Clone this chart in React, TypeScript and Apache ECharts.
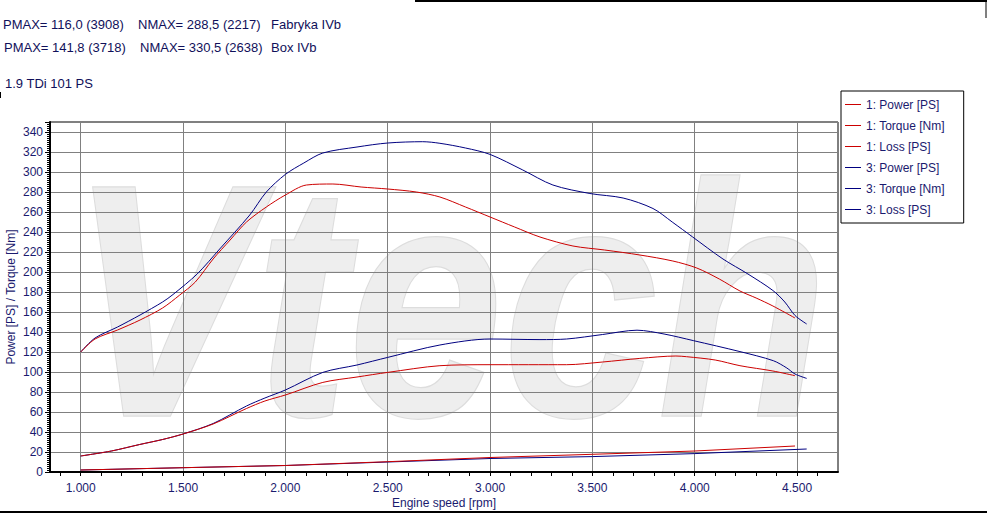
import React, { useEffect, useRef } from "react";
import * as echarts from "echarts";

const FONT = "'Liberation Sans', Arial, sans-serif";
const RED = "#cc0000";
const NAVY = "#000080";
const TEXT = "#1a1a6e";

const seriesNames = [
  "1: Power [PS]",
  "1: Torque [Nm]",
  "1: Loss [PS]",
  "3: Power [PS]",
  "3: Torque [Nm]",
  "3: Loss [PS]",
];

const headerRow1 = ["PMAX= 116,0 (3908)", "NMAX= 288,5 (2217)", "Fabryka IVb"];
const headerRow2 = ["PMAX= 141,8 (3718)", "NMAX= 330,5 (2638)", "Box IVb"];
const subtitle = "1.9 TDi 101 PS";
const xAxisName = "Engine speed [rpm]";
const yAxisName = "Power [PS] / Torque [Nm]";

const xMajorTicks = [1000, 1500, 2000, 2500, 3000, 3500, 4000, 4500];
const xMinorTicks = [
  900, 1000, 1100, 1200, 1300, 1400, 1500, 1600, 1700, 1800, 1900, 2000, 2100,
  2200, 2300, 2400, 2500, 2600, 2700, 2800, 2900, 3000, 3100, 3200, 3300, 3400,
  3500, 3600, 3700, 3800, 3900, 4000, 4100, 4200, 4300, 4400, 4500, 4600,
];

const redPower = [
  [1000, 16], [1150, 21], [1288, 27.5], [1400, 32.5], [1500, 38], [1647, 48],
  [1810, 63.5], [1900, 71], [2000, 77], [2183, 89.6], [2350, 95], [2500, 99.6],
  [2755, 106.3], [3000, 107.3], [3374, 107.3], [3550, 110], [3732, 113.6],
  [3908, 116], [3960, 115.3], [4100, 112], [4221, 106.3], [4382, 101], [4490, 96.3],
];
const redTorque = [
  [1000, 120], [1070, 133], [1180, 142], [1290, 152], [1400, 164], [1484, 177],
  [1560, 190], [1647, 213], [1730, 232], [1810, 250], [1907, 265], [2000, 277],
  [2103, 287], [2232, 288], [2370, 285], [2500, 283], [2640, 280], [2755, 275],
  [2880, 265], [3000, 255], [3120, 245], [3244, 235], [3405, 226], [3560, 222],
  [3732, 217], [3893, 211], [4010, 204], [4120, 193], [4221, 181], [4300, 174],
  [4382, 166], [4490, 154],
];
const redLoss = [
  [1000, 2], [1500, 4.3], [2000, 6.5], [2500, 10.3], [3000, 14.5], [3500, 17.7],
  [4000, 21], [4490, 26],
];
const bluePower = [
  [1000, 16], [1150, 21], [1288, 27.5], [1400, 32.5], [1500, 38], [1647, 48.5],
  [1810, 66], [1900, 74], [2000, 82], [2183, 99.6], [2350, 107], [2500, 114.6],
  [2755, 127], [3000, 133], [3244, 132.4], [3374, 133], [3550, 137.5],
  [3718, 141.8], [3850, 138], [3993, 131.4], [4221, 120.4], [4384, 111.3],
  [4450, 104], [4490, 98], [4547, 93.6],
];
const blueTorque = [
  [1000, 120], [1070, 134], [1180, 145], [1290, 157], [1400, 170], [1451, 177.5],
  [1569, 198], [1679, 223], [1826, 257], [1907, 280], [2000, 297.6], [2090, 309],
  [2183, 319], [2350, 325], [2500, 329], [2671, 330.3], [2755, 328.7], [2880, 324],
  [3000, 317.6], [3160, 302], [3307, 287], [3488, 278.5], [3650, 274],
  [3796, 263.5], [3890, 250], [3990, 235], [4138, 213], [4260, 198],
  [4382, 181.5], [4440, 170], [4490, 156.5], [4547, 148],
];
const blueLoss = [
  [1000, 2], [1500, 4.3], [2000, 6.5], [2500, 10], [3000, 13.5], [3500, 15.4],
  [4000, 18.4], [4547, 23],
];

const seriesData = [redPower, redTorque, redLoss, bluePower, blueTorque, blueLoss];
const seriesColors = [RED, RED, RED, NAVY, NAVY, NAVY];
const seriesSmooth = [0.3, 0.3, false, 0.3, 0.3, false];

const X_MIN = 850;
const X_MAX = 4700;
const Y_MIN = 0;
const Y_MAX = 350;

function fmtRpm(v: number) {
  const th = Math.floor(v / 1000);
  const rest = String(Math.round(v % 1000)).padStart(3, "0");
  return th + "." + rest;
}

export default function App() {
  const ref = useRef<HTMLDivElement>(null);
  useEffect(() => {
    document.body.style.margin = "0";
    if (!ref.current) return;
    const chart = echarts.init(ref.current, undefined, { renderer: "svg" });
    const headerX = [3, 138, 271];
    const headerX2 = [4, 140, 271];
    const graphics: any[] = [];
    headerRow1.forEach((t, i) =>
      graphics.push({
        type: "text", left: headerX[i], top: 18,
        style: { text: t, fill: "#10105a", font: `13px ${FONT}` },
      })
    );
    headerRow2.forEach((t, i) =>
      graphics.push({
        type: "text", left: headerX2[i], top: 41,
        style: { text: t, fill: "#10105a", font: `13px ${FONT}` },
      })
    );
    graphics.push({
      type: "text", left: 5, top: 77,
      style: { text: subtitle, fill: "#10105a", font: `13px ${FONT}` },
    });
    graphics.push({
      type: "line", shape: { x1: 415, y1: 1, x2: 987, y2: 1 },
      style: { stroke: "#000", lineWidth: 2 },
    });
    graphics.push({
      type: "line", shape: { x1: 986, y1: 0, x2: 986, y2: 18 },
      style: { stroke: "#000", lineWidth: 1 },
    });
    graphics.push({
      type: "line", shape: { x1: 0, y1: 512, x2: 987, y2: 512 },
      style: { stroke: "#000", lineWidth: 2 },
    });
    graphics.push({
      type: "line", shape: { x1: 0.5, y1: 92, x2: 0.5, y2: 98 },
      style: { stroke: "#000", lineWidth: 1 },
    });
    graphics.push({
      type: "text", x: 70, y: 135, z: -10, scaleX: 1.05, scaleY: 1.25,
      style: {
        text: "Vtech", fill: "#eeeeee", stroke: "#dddddd", lineWidth: 2,
        font: `italic bold 265px ${FONT}`,
      },
    });

    const option: any = {
      animation: false,
      backgroundColor: "#fff",
      textStyle: { fontFamily: FONT },
      grid: {
        left: 50, top: 122, right: 149, bottom: 41,
        show: true, borderColor: "#000", borderWidth: 1,
        containLabel: false, outerBoundsMode: "none",
      },
      legend: {
        orient: "vertical", left: 841, top: 91,
        padding: [3, 19, 3, 4], itemGap: 0, itemWidth: 16, itemHeight: 1,
        icon: "rect",
        borderColor: "#000", borderWidth: 1, backgroundColor: "#fff",
        textStyle: { fontSize: 12, color: TEXT, lineHeight: 21, fontFamily: FONT },
        data: seriesNames,
      },
      xAxis: [
        {
          type: "value", min: X_MIN, max: X_MAX,
          name: xAxisName, nameLocation: "middle", nameGap: 25, nameMoveOverlap: false,
          nameTextStyle: { color: TEXT, fontSize: 12, fontFamily: FONT },
          axisLine: { show: true, lineStyle: { color: "#000", width: 2 } },
          axisTick: { show: false, customValues: xMajorTicks },
          axisLabel: {
            color: TEXT, fontSize: 12, margin: 10, fontFamily: FONT,
            customValues: xMajorTicks,
            formatter: (v: number) => fmtRpm(v),
          },
          splitLine: { show: true, lineStyle: { color: "#808080", width: 1 } },
        },
        {
          type: "value", min: X_MIN, max: X_MAX, position: "bottom",
          axisLine: { show: false },
          axisTick: { show: true, length: 4, lineStyle: { color: "#000" }, customValues: xMinorTicks },
          axisLabel: { show: false, customValues: xMinorTicks },
          splitLine: { show: false },
        },
      ],
      yAxis: {
        type: "value", min: Y_MIN, max: Y_MAX, interval: 20,
        name: yAxisName, nameLocation: "middle", nameGap: 33, nameMoveOverlap: false,
        nameTextStyle: { color: TEXT, fontSize: 12, fontFamily: FONT },
        axisLine: { show: true, lineStyle: { color: "#000", width: 2 } },
        axisTick: { show: true, length: 5, lineStyle: { color: "#000" } },
        minorTick: { show: true, splitNumber: 10, length: 3, lineStyle: { color: "#000" } },
        axisLabel: {
          color: TEXT, fontSize: 12, margin: 7, fontFamily: FONT, showMaxLabel: false,
        },
        splitLine: { show: true, lineStyle: { color: "#808080", width: 1 } },
      },
      graphic: graphics,
      series: seriesNames.map((name, i) => ({
        name,
        type: "line",
        xAxisIndex: 0,
        data: seriesData[i],
        color: seriesColors[i],
        smooth: seriesSmooth[i],
        showSymbol: false,
        symbol: "none",
        lineStyle: { color: seriesColors[i], width: 1 },
        z: i < 3 ? 3 : 2,
      })),
    };
    chart.setOption(option);
    return () => chart.dispose();
  }, []);
  return <div ref={ref} style={{ width: 987, height: 513 }} />;
}
